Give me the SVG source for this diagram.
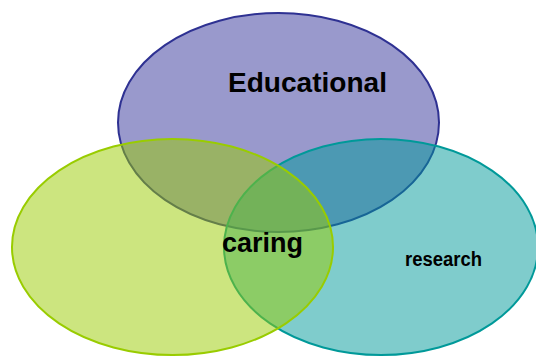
<svg xmlns="http://www.w3.org/2000/svg" width="536" height="356" viewBox="0 0 536 356">
<style>
.c{stroke-width:2}
.t{font-family:"Liberation Sans",Arial,sans-serif;font-weight:bold;fill:#000}
</style>
<rect width="536" height="356" fill="#fff"/>
<g id="educational">
<ellipse class="c" cx="278.5" cy="122.5" rx="160.5" ry="109.5" fill="#333399" fill-opacity="0.5" stroke="#2e3192"/>
</g>
<g id="research">
<ellipse class="c" cx="381" cy="247" rx="157" ry="108" fill="#009999" fill-opacity="0.5" stroke="#009999"/>
</g>
<g id="caring">
<ellipse class="c" cx="172.5" cy="247" rx="160.5" ry="108" fill="#99cc00" fill-opacity="0.5" stroke="#99cc00"/>
</g>
<g id="labels">
<text class="t" x="228" y="92" font-size="27" textLength="159" lengthAdjust="spacingAndGlyphs">Educational</text>
<text class="t" x="222" y="252" font-size="28" textLength="81" lengthAdjust="spacingAndGlyphs">caring</text>
<text class="t" x="405" y="266" font-size="20" textLength="77" lengthAdjust="spacingAndGlyphs">research</text>
</g>
<g id="connectors"/>
</svg>
